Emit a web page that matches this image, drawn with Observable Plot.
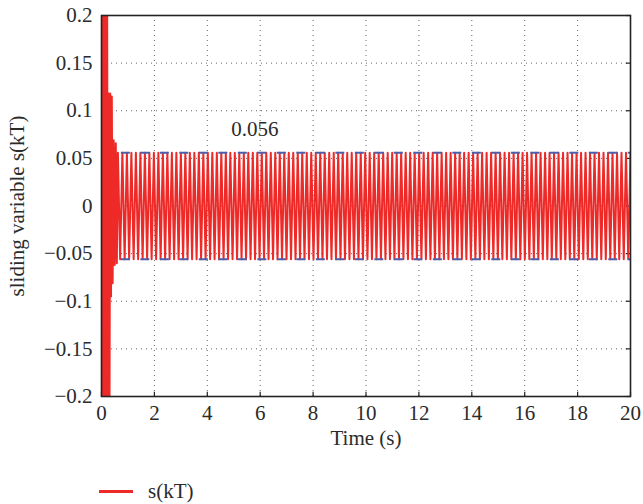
<!DOCTYPE html>
<html><head><meta charset="utf-8">
<script src="https://cdn.jsdelivr.net/npm/d3@7"></script>
<script src="https://cdn.jsdelivr.net/npm/@observablehq/plot@0.6"></script>
<style>
body{margin:0;background:#fff;font-family:"Liberation Serif",serif;color:#2b2b2b;}
#wrap{position:relative;width:643px;height:504px;}
#legend{position:absolute;left:99px;top:477px;height:28px;display:flex;align-items:center;font-size:21px;}
#legend .sw{width:34px;height:3px;background:#ed2a28;margin-right:15px;}
</style>
</head><body><div id="wrap"><div id="chart"></div><div id="legend"><span class="sw"></span><span>s(kT)</span></div></div>
<script>
// transient part of s(kT) (time in s, value)
const transientTime  = [0.00, 0.03, 0.06, 0.09, 0.12, 0.15, 0.18, 0.21, 0.24, 0.27, 0.30, 0.33, 0.36, 0.39, 0.42, 0.46, 0.50, 0.54, 0.58];
const transientValue = [0.00, 0.30, -0.30, 0.30, -0.30, 0.30, -0.30, 0.30, -0.30, 0.118, -0.25, 0.118, -0.095, 0.115, -0.081, 0.069, -0.062, 0.066, -0.060];
// steady chattering: switches between +amplitude and -amplitude every halfPeriod
const steadyStart = 0.62;
const steadyEnd = 20;
const halfPeriod = 0.085;
const steadyAmplitude = 0.056;
// dashed bound lines
const boundValues = [0.056, -0.056];
const boundStart = 0.75;
const annotationText = ["0.056"];
const annotationX = [5.8];
const annotationY = [0.081];
// ticks
const xTicks = [0, 2, 4, 6, 8, 10, 12, 14, 16, 18, 20];
const yTicks = [0.2, 0.15, 0.1, 0.05, 0, -0.05, -0.1, -0.15, -0.2];
const yTickLabels = ["0.2", "0.15", "0.1", "0.05", "0", "\u22120.05", "\u22120.1", "\u22120.15", "\u22120.2"];

const series = transientTime.map((t, i) => ({t, v: transientValue[i]}));
for (let i = 0, t = steadyStart; t <= steadyEnd + 1e-9; i++, t = steadyStart + i * halfPeriod) {
  series.push({t, v: (i % 2 === 0 ? 1 : -1) * steadyAmplitude});
}

const red = "#ed2a28";
const blue = "#4d5eab";
const fs = 21;

const chart = Plot.plot({
  width: 643,
  height: 460,
  marginLeft: 101,
  marginRight: 13,
  marginTop: 15,
  marginBottom: 64,
  style: {fontFamily: "'Liberation Serif', serif", fontSize: fs + "px", color: "#2b2b2b", background: "#fff"},
  x: {domain: [0, 20]},
  y: {domain: [-0.2, 0.2]},
  marks: [
    Plot.gridX(xTicks, {stroke: "#666", strokeOpacity: 1, strokeWidth: 1, strokeDasharray: "1,4"}),
    Plot.gridY(yTicks, {stroke: "#666", strokeOpacity: 1, strokeWidth: 1, strokeDasharray: "1,4"}),
    Plot.ruleX(xTicks, {y1: -0.2, y2: -0.2 + 0.0045, stroke: "#222", strokeWidth: 1.2}),
    Plot.ruleY(yTicks, {x1: 20, x2: 20 - 0.16, stroke: "#222", strokeWidth: 1.2}),
    Plot.line(series, {x: "t", y: "v", stroke: red, strokeWidth: 2, clip: true}),
    Plot.ruleY(boundValues, {x1: boundStart, x2: 20, stroke: blue, strokeWidth: 2, strokeDasharray: "9,10.5"}),
    Plot.text(annotationText, {x: (d, i) => annotationX[i], y: (d, i) => annotationY[i], text: d => d, fill: "#2b2b2b", fontSize: fs}),
    Plot.frame({stroke: "#222", strokeWidth: 1.6}),
    Plot.axisX(xTicks, {tickSize: 0, tickPadding: 9, label: null, fontSize: fs}),
    Plot.axisY(yTicks, {tickSize: 0, tickPadding: 9, label: null, fontSize: fs, tickFormat: d => yTickLabels[yTicks.indexOf(d)]}),
    Plot.text(["Time (s)"], {frameAnchor: "bottom", dy: 48, text: d => d, fontSize: fs, fill: "#2b2b2b"}),
    Plot.text(["sliding variable s(kT)"], {frameAnchor: "left", textAnchor: "middle", dx: -84, rotate: -90, text: d => d, fontSize: fs, fill: "#2b2b2b"})
  ]
});
document.getElementById("chart").appendChild(chart);
</script>
</body></html>
